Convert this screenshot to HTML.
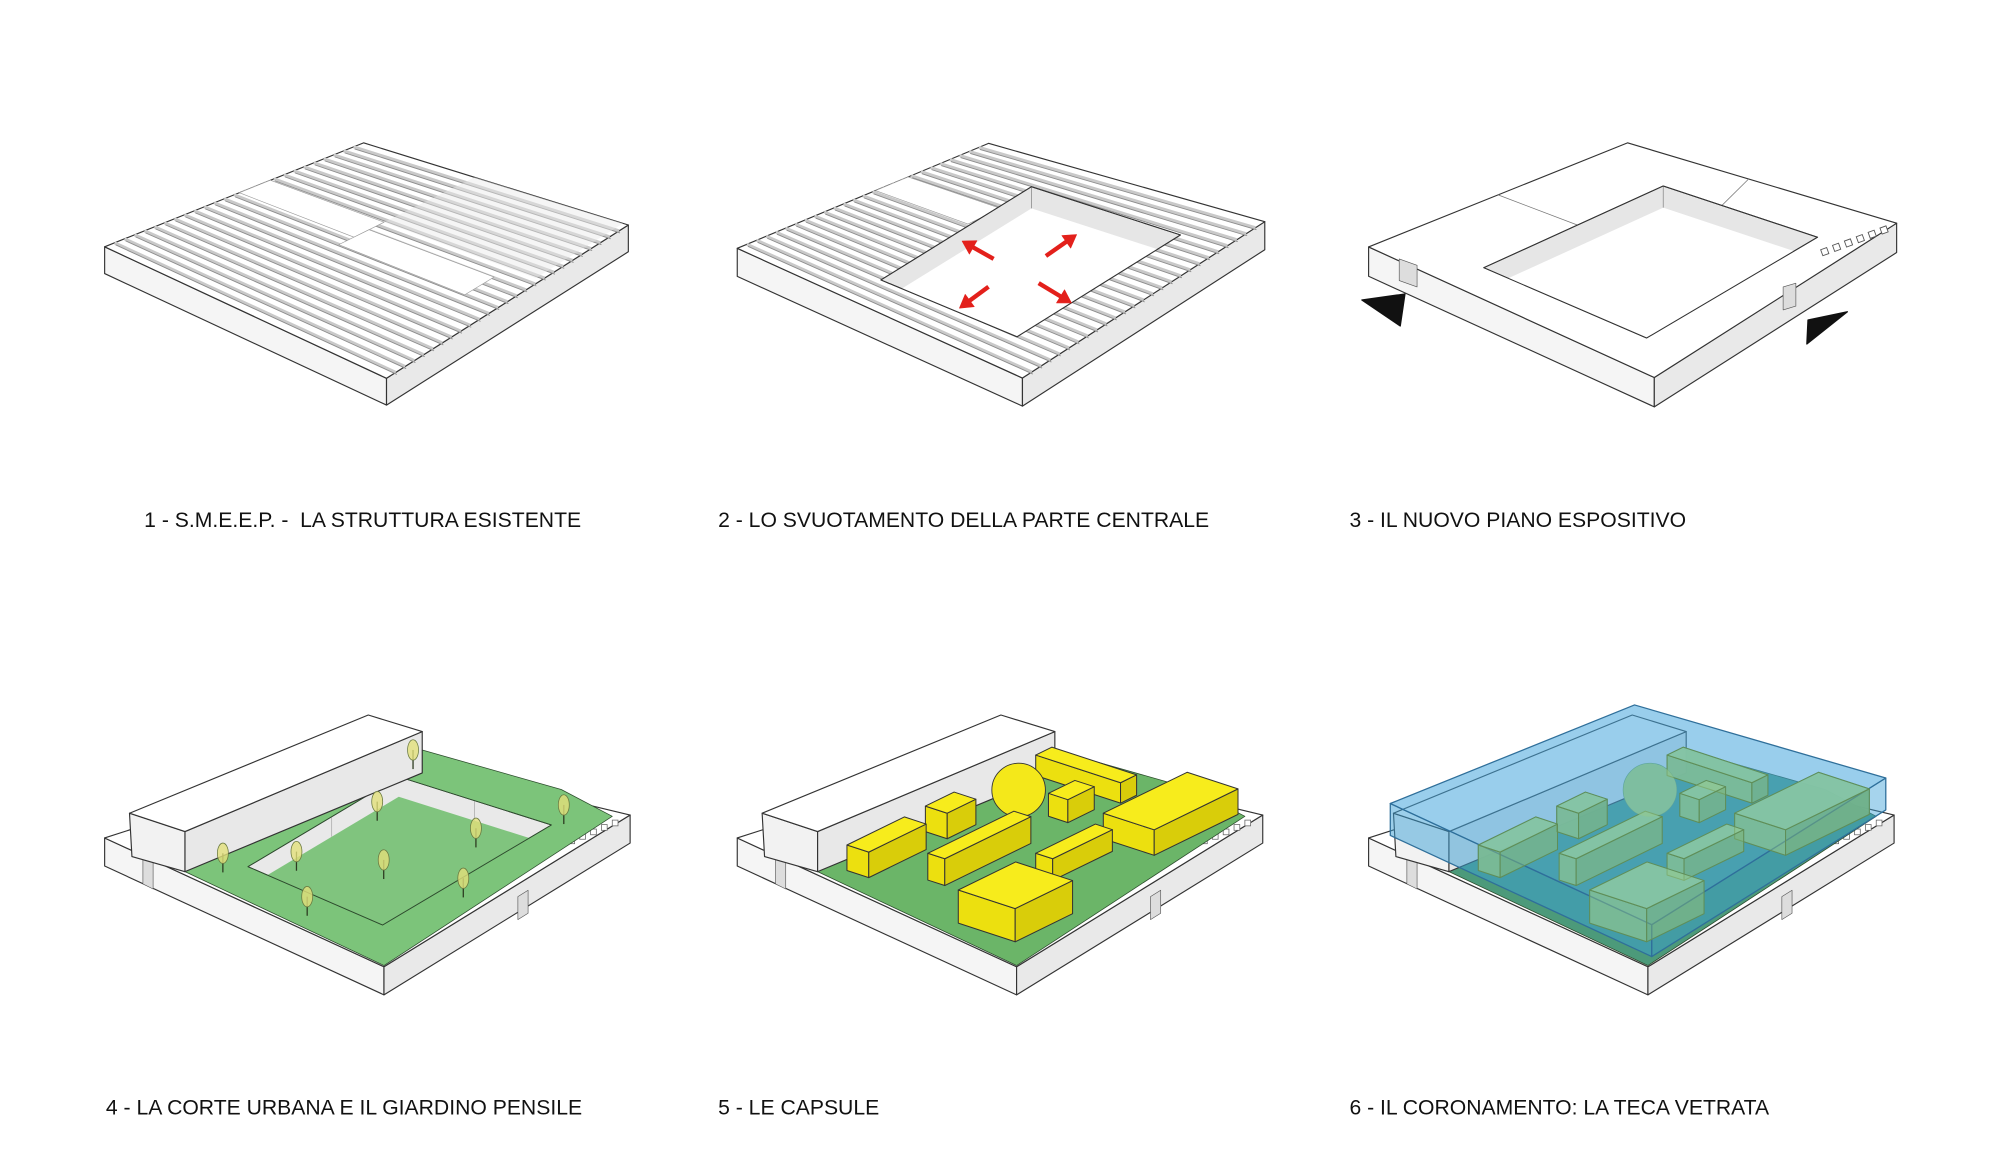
<!DOCTYPE html>
<html><head><meta charset="utf-8">
<style>
html,body{margin:0;padding:0;background:#fff;}
svg{display:block;}
text{font-family:"Liberation Sans",sans-serif;font-size:16.6px;fill:#111;}
</style></head>
<body>
<svg id="s" width="2000" height="1153" viewBox="0 0 1568 904" xmlns="http://www.w3.org/2000/svg">
<rect width="1568" height="904" fill="#fff"/>
<g id="g"></g>
<text x="113" y="413">1 - S.M.E.E.P. -&#160; LA STRUTTURA ESISTENTE</text>
<text x="563" y="413">2 - LO SVUOTAMENTO DELLA PARTE CENTRALE</text>
<text x="1058" y="413">3 - IL NUOVO PIANO ESPOSITIVO</text>
<text x="83" y="874">4 - LA CORTE URBANA E IL GIARDINO PENSILE</text>
<text x="563" y="874">5 - LE CAPSULE</text>
<text x="1058" y="874">6 - IL CORONAMENTO: LA TECA VETRATA</text>
</svg>
<script>
var g=document.getElementById('g'),NS='http://www.w3.org/2000/svg';
function el(t,a){var e=document.createElementNS(NS,t);for(var k in a)e.setAttribute(k,a[k]);g.appendChild(e);return e;}
function P(pts){return pts.map(function(p){return p[0].toFixed(1)+','+p[1].toFixed(1)}).join(' ');}
function poly(pts,fill,stroke,sw,op){return el('polygon',{points:P(pts),fill:fill,stroke:stroke||'#333','stroke-width':sw==null?0.8:sw,'fill-opacity':op==null?1:op,'stroke-linejoin':'round'});}
function line(a,b,c,w){el('line',{x1:a[0],y1:a[1],x2:b[0],y2:b[1],stroke:c,'stroke-width':w,'stroke-linecap':'butt'});}
function dn(p,h){return [p[0],p[1]+h];}
function M(q,u,v){var L=q[0],T=q[1],R=q[2],B=q[3];
 return [(1-u)*(1-v)*L[0]+u*(1-v)*T[0]+u*v*R[0]+(1-u)*v*B[0],(1-u)*(1-v)*L[1]+u*(1-v)*T[1]+u*v*R[1]+(1-u)*v*B[1]];}
function slab(q,t){
 poly([q[0],q[3],dn(q[3],t),dn(q[0],t)],'#f5f5f5','#333',0.9);
 poly([q[3],q[2],dn(q[2],t),dn(q[3],t)],'#e9e9e9','#333',0.9);
 poly(q,'#fff','#333',0.9);
}
function stripes(q,n){
 for(var i=1;i<n;i++){var u=i/n;
  var a=M(q,u,0),b=M(q,u,1);
  line(a,b,'#c9c9c9',2.4);
  line([a[0]+0.8,a[1]+1.6],[b[0]+0.8,b[1]+1.6],'#8c8c8c',0.7);}
}
function quadUV(q,u0,u1,v0,v1){return [M(q,u0,v0),M(q,u1,v0),M(q,u1,v1),M(q,u0,v1)];}
function inter(p1,d1,p2,p3){
 var d2=[p3[0]-p2[0],p3[1]-p2[1]];var den=d1[0]*d2[1]-d1[1]*d2[0];
 var t=((p2[0]-p1[0])*d2[1]-(p2[1]-p1[1])*d2[0])/den;return [p1[0]+d1[0]*t,p1[1]+d1[1]*t];}
function voidq(v,h){
 var L=v[0],T=v[1],R=v[2],B=v[3];
 poly(v,'#e6e6e6','#333',0.8);
 var Th=dn(T,h);
 var fl=inter(Th,[T[0]-L[0],T[1]-L[1]],L,B);
 var fr=inter(Th,[R[0]-T[0],R[1]-T[1]],R,B);
 poly([fl,Th,fr,B],'#fff','none',0);
 line(T,Th,'#888',0.6);
 poly(v,'none','#333',0.8);
}
// ---------- Panel 1
var q1=[[82,193.5],[285,112],[492.6,176.4],[303,296.6]];
slab(q1,21);
stripes(q1,26);
poly(quadUV(q1,0.52,0.64,0,0.42),'#fff','#999',0.5);
poly(quadUV(q1,0.46,0.58,0.42,0.88),'#fff','#999',0.5);
poly(quadUV(q1,0.64,1,0.42,0.98),'#e8e8e8','none',0,0.45);
// ---------- Panel 2
var q2=[[578,194.7],[775,112.4],[991.6,173.8],[801.6,296.4]];
slab(q2,22);
stripes(q2,26);
poly(quadUV(q2,0.55,0.68,0,0.33),'#fff','#999',0.5);
voidq([[690.6,219.5],[808.7,146.4],[925.5,184.2],[797.4,264]],17);
function arrow(x1,y1,x2,y2){var dx=x2-x1,dy=y2-y1,l=Math.hypot(dx,dy);dx/=l;dy/=l;
 line([x1,y1],[x2-dx*6,y2-dy*6],'#e3201b',3.4);
 poly([[x2+dx*2,y2+dy*2],[x2-dx*8-dy*6,y2-dy*8+dx*6],[x2-dx*8+dy*6,y2-dy*8-dx*6]],'#e3201b','#e3201b',0.5);}
arrow(779,203,756,190);arrow(820,200.7,842.5,185);arrow(775,224.8,753.8,240.4);arrow(814.3,222,838.3,236.5);
// ---------- Panel 3
var q3=[[1073,193.6],[1276,112],[1487,175],[1297,296]];
slab(q3,23);
poly([[1097,203],[1111,208],[1111,225],[1097,220]],'#ddd','#555',0.5);
poly([[1398,225],[1408,222],[1408,240],[1398,243]],'#ddd','#555',0.5);
line(M(q3,0.5,0),M(q3,0.5,0.3),'#777',0.6);
line(M(q3,0.7,0.55),M(q3,1,0.45),'#777',0.6);
voidq([[1163.3,209.9],[1304,145.8],[1425,186],[1291,265]],17);
poly([[1067.7,235.2],[1101.5,230.5],[1097.8,255.6]],'#111','#111',1);
poly([[1416.6,269.7],[1448.4,244.4],[1417.5,250.9]],'#111','#111',1);
for(var i=0;i<6;i++){el('rect',{x:1428+i*9.3,y:195-i*3.4,width:5,height:5,fill:'#fff',stroke:'#555','stroke-width':0.7,transform:'rotate(-20 '+(1430+i*9.3)+' '+(197-i*3.4)+')'});}
// ---------- Row 2
function base2(o){
 var L=[82+o,657],T=[290+o,590],R=[494+o,639],B=[301+o,758];
 poly([L,B,dn(B,22),dn(L,22)],'#f5f5f5','#333',0.9);
 poly([B,R,dn(R,22),dn(B,22)],'#e9e9e9','#333',0.9);
 poly([L,T,R,B],'#fff','#333',0.9);
 poly([[112+o,671],[120+o,675],[120+o,697],[112+o,693]],'#ddd','#555',0.5);
 poly([[406+o,703],[414+o,698],[414+o,716],[406+o,721]],'#ddd','#555',0.5);
 for(var i=0;i<5;i++){el('rect',{x:o+446+i*8.5,y:657-i*3.5,width:4.5,height:4.5,fill:'#fff',stroke:'#666','stroke-width':0.6});}
}
function block(o,fill,op){
 poly([[101.5+o,637.6],[145+o,652],[145+o,683.4],[103.4+o,671.6]],'#f2f2f2','#333',0.9,op);
 poly([[145+o,652],[331+o,573.6],[331+o,606],[145+o,683.4]],'#e8e8e8','#333',0.9,op);
 poly([[101.5+o,637.6],[288.7+o,560.6],[331+o,573.6],[145+o,652]],fill||'#fff','#333',0.9,op);
}
function greenOuter(o,c){poly([[145+o,683.4],[331+o,606],[331+o,588],[440+o,619],[480+o,640],[301+o,757]],c,'#2d4d2d',0.6);}
// Panel 4
base2(0);
greenOuter(0,'#7cc47a');
(function(){var v=[[194.4,679.5],[312.6,609],[432.2,646.8],[299.9,725.2]];
 poly(v,'#e9e9e9','#333',0.7);
 var Th=dn(v[1],15.7);
 var fl=inter(Th,[v[1][0]-v[0][0],v[1][1]-v[0][1]],v[0],v[3]);
 var fr=inter(Th,[v[2][0]-v[1][0],v[2][1]-v[1][1]],v[2],v[3]);
 poly([fl,Th,fr,v[3]],'#80c47e','none',0);
 line([260,641],[260,656],'#aaa',0.6);line([372,628],[372,644],'#aaa',0.6);
 poly(v,'none','#2d4d2d',0.7);})();
block(0);
function tree(x,y){line([x,y],[x,y+15],'#2c3a20',1);el('ellipse',{cx:x,cy:y,rx:4.3,ry:8,fill:'#e2e07a',stroke:'#6a7a40','stroke-width':0.6,'fill-opacity':0.8});}
[[174.7,669],[232.4,667.7],[295.7,628.5],[323.8,588],[373.1,649.4],[300.8,674.2],[363.2,688.6],[240.8,703],[442,631.1]].forEach(function(t){tree(t[0],t[1]);});
var A2=[0.9,-0.44],B2=[0.95,0.31];
function box2(x,y,w,d,h,top,l,r,sc,op){
 var p0=[x,y],p1=[x+A2[0]*w,y+A2[1]*w],p2=[p1[0]+B2[0]*d,p1[1]+B2[1]*d],p3=[x+B2[0]*d,y+B2[1]*d];
 poly([p0,p3,dn(p3,h),dn(p0,h)],l,sc,0.8,op);
 poly([p3,p2,dn(p2,h),dn(p3,h)],r,sc,0.8,op);
 poly([p0,p1,p2,p3],top,sc,0.8,op);
}
// back boxes first, then sphere, then front
var backB=[[812,592,14,70,16],[822,622,23,16,18],[725.5,632,25,18,20]];
var frontB=[[865,637.6,73,42,20],[664,662.5,50,18,20],[727.4,669,75,14,21],[812,669,52,14,17],[751.3,697.8,50,47,26]];
// Panel 5
base2(496);
greenOuter(496,'#6bb568');
block(496);
var Y=['#f7ec1c','#ece00f','#d9cd0a','#333'];
backB.forEach(function(b){box2(b[0],b[1],b[2],b[3],b[4],Y[0],Y[1],Y[2],Y[3]);});
el('circle',{cx:798.6,cy:619.4,r:21,fill:'#f4e81a',stroke:'#333','stroke-width':0.7});
frontB.forEach(function(b){box2(b[0],b[1],b[2],b[3],b[4],Y[0],Y[1],Y[2],Y[3]);});
// Panel 6
base2(991);
greenOuter(991,'#4c9a7a');
block(991,'#fff');
var G=['#9bcf8f','#8dc282','#80b676','#5f8e58'];
backB.forEach(function(b){box2(b[0]+495,b[1],b[2],b[3],b[4],G[0],G[1],G[2],G[3],0.95);});
el('circle',{cx:1293.6,cy:619.4,r:21,fill:'#94c88a',stroke:'#6a9a5e','stroke-width':0.6});
frontB.forEach(function(b){box2(b[0]+495,b[1],b[2],b[3],b[4],G[0],G[1],G[2],G[3],0.95);});
var gL=[1090,630],gT=[1281.5,552.7],gR=[1478.5,610],gB=[1295,725],H=25;
poly([gL,gB,dn(gB,H),dn(gL,H)],'#3aa0d6','#2f6f9a',1,0.5);
poly([gB,gR,dn(gR,H),dn(gB,H)],'#3aa0d6','#2f6f9a',1,0.45);
poly([gL,gT,gR,gB],'#45a6dc','#2f6f9a',1,0.55);
backB.concat(frontB).forEach(function(b){box2(b[0]+495,b[1],b[2],b[3],b[4],G[0],G[1],G[2],G[3],0.5);});
el('circle',{cx:1293.6,cy:619.4,r:21,fill:'#94c88a',stroke:'none','fill-opacity':0.5});
</script>
</body></html>
